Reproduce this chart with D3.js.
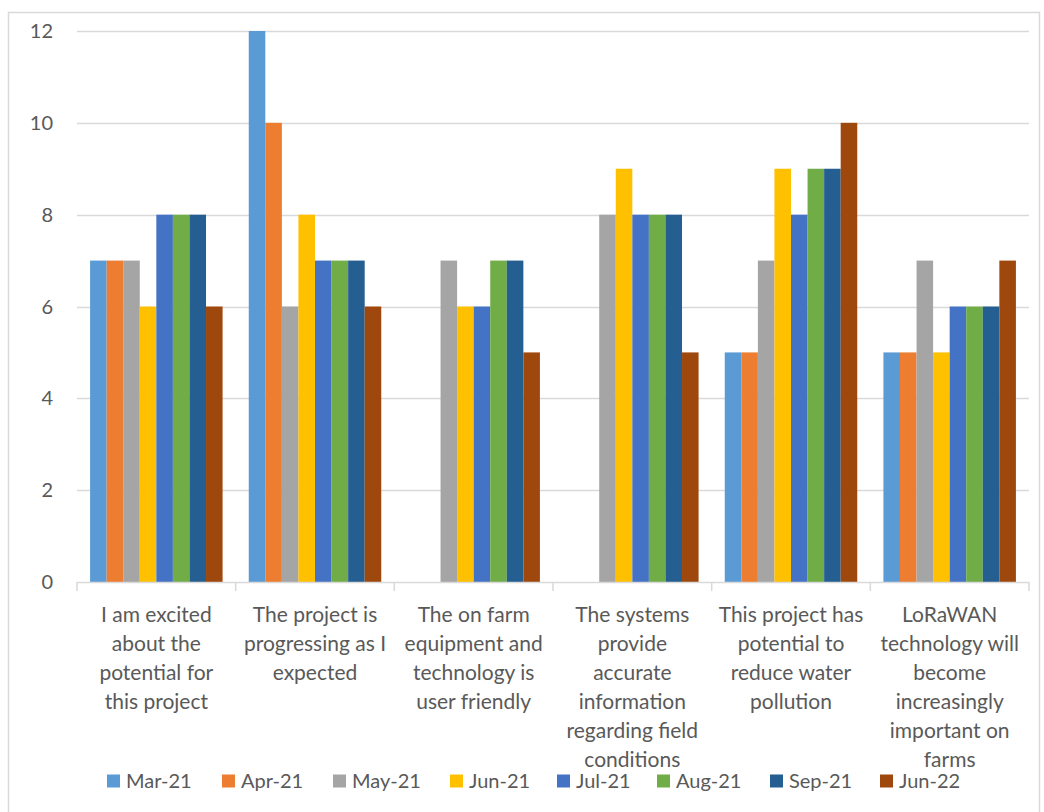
<!DOCTYPE html>
<html>
<head>
<meta charset="utf-8">
<script src="https://cdn.jsdelivr.net/npm/d3@7"></script>
<style>
  body { margin: 0; background: #fff; }
  svg text { font-family: Lato, "Open Sans", sans-serif; fill: #595959; }
</style>
</head>
<body>
<svg id="chart" width="1044" height="812"></svg>
<script>
// survey statements (line breaks as shown on the axis)
var categories = [
  ["I am excited", "about the", "potential for", "this project"],
  ["The project is", "progressing as I", "expected"],
  ["The on farm", "equipment and", "technology is", "user friendly"],
  ["The systems", "provide", "accurate", "information", "regarding field", "conditions"],
  ["This project has", "potential to", "reduce water", "pollution"],
  ["LoRaWAN", "technology will", "become", "increasingly", "important on", "farms"]
];

var seriesNames = ["Mar-21", "Apr-21", "May-21", "Jun-21", "Jul-21", "Aug-21", "Sep-21", "Jun-22"];
var seriesColors = ["#5B9BD5", "#ED7D31", "#A5A5A5", "#FFC000", "#4472C4", "#70AD47", "#255E91", "#9E480E"];

// one array per month, one value per statement
var mar21 = [7, 12, 0, 0, 5, 5];
var apr21 = [7, 10, 0, 0, 5, 5];
var may21 = [7, 6, 7, 8, 7, 7];
var jun21 = [6, 8, 6, 9, 9, 5];
var jul21 = [8, 7, 6, 8, 8, 6];
var aug21 = [8, 7, 7, 8, 9, 6];
var sep21 = [8, 7, 7, 8, 9, 6];
var jun22 = [6, 6, 5, 5, 10, 7];
var values = [mar21, apr21, may21, jun21, jul21, aug21, sep21, jun22];

var yTicks = [0, 2, 4, 6, 8, 10, 12];

var svg = d3.select("#chart");

// chart border
svg.append("rect")
  .attr("x", 8.5).attr("y", 12.5)
  .attr("width", 1031).attr("height", 812)
  .attr("fill", "none")
  .attr("stroke", "#D9D9D9")
  .attr("stroke-width", 1.5);

var plotLeft = 77, plotRight = 1029, plotTop = 31, plotBottom = 582;

var y = d3.scaleLinear().domain([0, 12]).range([plotBottom, plotTop]);
var x0 = d3.scaleBand().domain(d3.range(categories.length)).range([plotLeft, plotRight]).padding(0);
var x1 = d3.scaleBand().domain(d3.range(seriesNames.length))
  .range([0, x0.bandwidth()]).paddingInner(0).paddingOuter(0.79);

// gridlines
svg.append("g").selectAll("line")
  .data(yTicks.filter(function(d){ return d > 0; }))
  .enter().append("line")
  .attr("x1", plotLeft).attr("x2", plotRight)
  .attr("y1", function(d){ return Math.round(y(d)) + 0.5; })
  .attr("y2", function(d){ return Math.round(y(d)) + 0.5; })
  .attr("stroke", "#D9D9D9")
  .attr("stroke-width", 1.5);

// y tick labels
svg.append("g").selectAll("text")
  .data(yTicks)
  .enter().append("text")
  .attr("x", 53)
  .attr("y", function(d){ return y(d); })
  .attr("dy", "0.35em")
  .attr("text-anchor", "end")
  .style("font-size", "20px")
  .text(function(d){ return d; });

// bars
var groups = svg.append("g").selectAll("g")
  .data(categories)
  .enter().append("g")
  .attr("transform", function(d, i){ return "translate(" + x0(i) + ",0)"; });

groups.selectAll("rect")
  .data(function(d, i){ return values.map(function(s, j){ return {s: j, v: s[i]}; }); })
  .enter().append("rect")
  .attr("x", function(d){ return x1(d.s); })
  .attr("width", x1.bandwidth())
  .attr("y", function(d){ return y(d.v); })
  .attr("height", function(d){ return plotBottom - y(d.v); })
  .attr("fill", function(d){ return seriesColors[d.s]; });

// x axis line and boundary ticks
svg.append("line")
  .attr("x1", plotLeft).attr("x2", plotRight)
  .attr("y1", plotBottom + 0.5).attr("y2", plotBottom + 0.5)
  .attr("stroke", "#D9D9D9").attr("stroke-width", 1.5);

svg.append("g").selectAll("line")
  .data(d3.range(categories.length + 1))
  .enter().append("line")
  .attr("x1", function(i){ return plotLeft + i * x0.step(); })
  .attr("x2", function(i){ return plotLeft + i * x0.step(); })
  .attr("y1", plotBottom).attr("y2", plotBottom + 9)
  .attr("stroke", "#D9D9D9").attr("stroke-width", 1.5);

// category labels
var labels = svg.append("g").selectAll("text")
  .data(categories)
  .enter().append("text")
  .attr("text-anchor", "middle")
  .attr("x", function(d, i){ return x0(i) + x0.bandwidth() / 2; })
  .attr("y", 615)
  .style("font-size", "21px");

labels.selectAll("tspan")
  .data(function(d){ return d; })
  .enter().append("tspan")
  .attr("x", function(){ return this.parentNode.getAttribute("x"); })
  .attr("y", function(d, k){ return 615 + k * 29; })
  .attr("dy", "0.35em")
  .text(function(d){ return d; });

// legend
var legendX = [107, 222, 333, 450, 557, 657, 770, 880];
var legend = svg.append("g").selectAll("g")
  .data(seriesNames)
  .enter().append("g")
  .attr("transform", function(d, i){ return "translate(" + legendX[i] + ",781)"; });

legend.append("rect")
  .attr("x", 0).attr("y", -6.5)
  .attr("width", 13).attr("height", 13)
  .attr("fill", function(d, i){ return seriesColors[i]; });

legend.append("text")
  .attr("x", 19)
  .attr("dy", "0.35em")
  .style("font-size", "20px")
  .text(function(d){ return d; });
</script>
</body>
</html>
